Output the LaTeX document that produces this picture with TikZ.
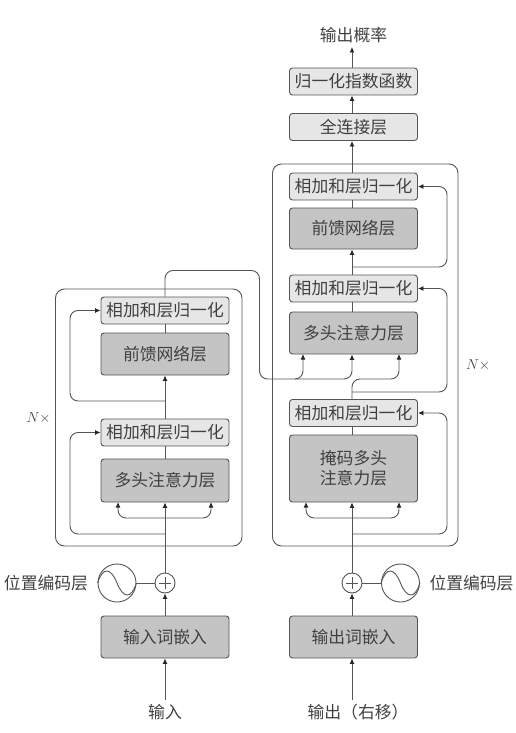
\documentclass[tikz,border=0pt]{standalone}
\usepackage{fontspec}
\setmainfont{Noto Sans CJK SC}
\usetikzlibrary{arrows.meta,calc}
\definecolor{edgeg}{HTML}{555555}
\definecolor{txt}{HTML}{404040}
\definecolor{lightf}{HTML}{E6E6E6}
\definecolor{darkf}{HTML}{C4C4C4}
\newcommand{\sinecurve}[1]{\draw[line] (#1.west) .. controls ([shift={(-14,-17)}]#1.center) and ([shift={(-6,-15)}]#1.center) .. (#1.center) .. controls ([shift={(6,15)}]#1.center) and ([shift={(14,17)}]#1.center) .. (#1.east);}
\newcommand{\plusmark}[1]{\draw[line] ([xshift=-6pt]#1.center) -- ([xshift=6pt]#1.center) ([yshift=-6pt]#1.center) -- ([yshift=6pt]#1.center);}
\tikzset{
 x=1pt,y=-1pt,
 line/.style={draw=edgeg,line width=0.9pt},
 arr/.style={line,-{Latex[length=5.5pt,width=5pt,black!85]}},
 loopline/.style={arr,rounded corners=8pt},
 lbl/.style={text=txt,font=\fontsize{16.8}{20}\selectfont,inner sep=0pt},
 blk/.style={lbl,line,rounded corners=3pt,minimum width=128pt,align=center},
 addnorm/.style={blk,fill=lightf,minimum height=27pt},
 darkblk/.style={blk,fill=darkf},
 frameb/.style={line,rounded corners=9pt,minimum width=#1},
 sinec/.style={line,circle,minimum size=38pt,inner sep=0pt,fill=white},
 plusc/.style={line,circle,minimum size=20pt,inner sep=0pt,fill=white},
 nx/.style={text=txt,inner sep=0pt,font=\fontsize{15}{17}\selectfont},
}
\begin{document}
\begin{tikzpicture}
\useasboundingbox (0,0) rectangle (515,733);
% frames
\node[frameb=186.5pt,minimum height=257pt] (fl) at (148.75,417.5) {};
\node[frameb=185.5pt,minimum height=382pt] (fr) at (365.25,355) {};
% encoder
\node[addnorm] (ln1) at (165,310.5) {相加和层归一化};
\node[darkblk,minimum height=42pt] (lff) at (165,354) {前馈网络层};
\node[addnorm] (ln2) at (165,432.5) {相加和层归一化};
\node[darkblk,minimum height=43pt] (lma) at (165,480.5) {多头注意力层};
\node[darkblk,minimum height=42pt] (lem) at (165,637) {输入词嵌入};
\node[plusc] (lp) at (165,583) {};
\node[sinec] (ls) at (117,583) {};
\node[lbl] (lpos) at (46,583) {位置编码层};
\node[lbl] (lin) at (165,712) {输入};
\node[nx] (ln) at (38.5,418) {$N\times$};
% decoder
\node[addnorm] (rn1) at (353.5,186.5) {相加和层归一化};
\node[darkblk,minimum height=41pt] (rff) at (353.5,228.5) {前馈网络层};
\node[addnorm] (rn2) at (353.5,288.5) {相加和层归一化};
\node[darkblk,minimum height=42pt] (rma) at (353.5,333) {多头注意力层};
\node[addnorm] (rn3) at (353.5,413) {相加和层归一化};
\node[darkblk,minimum height=67pt] (rmm) at (353.5,468.5) {掩码多头\\注意力层};
\node[darkblk,minimum height=42pt] (rem) at (353.5,637) {输出词嵌入};
\node[plusc] (rp) at (352,583) {};
\node[sinec] (rs) at (400.5,583) {};
\node[lbl] (rpos) at (471.5,583) {位置编码层};
\node[lbl] (rout) at (358,712) {输出（右移）};
\node[nx] (rnx) at (478,365) {$N\times$};
\node[addnorm] (fc) at (353.5,127) {全连接层};
\node[addnorm] (sm) at (353.5,81.5) {归一化指数函数};
\node[lbl] (prob) at (353.5,35) {输出概率};
% free points
\coordinate (lin0) at (165,700);
\coordinate (rin0) at (352,700);
\coordinate (p0) at (352,47);
% side marks
\sinecurve{ls}\sinecurve{rs}
\plusmark{lp}\plusmark{rp}
\draw[line] (ls) -- (lp);
\draw[line] (rs) -- (rp);
% encoder flow
\draw[arr] (lin0) -- (lem);
\draw[arr] (lem) -- (lp);
\draw[arr] (lp) -- (lma);
\draw[line] (lma) -- (ln2);
\draw[arr] (ln2) -- (lff);
\draw[line] (lff) -- (ln1);
\draw[loopline] (165,534) -- (70,534) -- (70,432.5) -- (ln2.west);
\draw[loopline] (165,401) -- (70,401) -- (70,310.5) -- (ln1.west);
\draw[loopline] (165,518) -- (118,518) -- (118,502);
\draw[loopline] (165,518) -- (211,518) -- (211,502);
% cross link
\draw[loopline] (ln1.north) -- (165,270.5) -- (259.5,270.5) -- (259.5,379) -- (303,379) -- (303,354);
\draw[loopline] (295,379) -- (352,379) -- (rp |- rma.south);
\draw[loopline] (rp |- rn3.north) -- (352,379) -- (399,379) -- (399,354);
% decoder flow
\draw[arr] (rin0) -- (rp |- rem.south);
\draw[arr] (rp |- rem.north) -- (rp);
\draw[arr] (rp) -- (rp |- rmm.south);
\draw[line] (rp |- rmm.north) -- (rp |- rn3.south);
\draw[loopline] (352,534) -- (447,534) -- (447,413) -- (rn3.east);
\draw[loopline] (352,518) -- (306,518) -- (306,502);
\draw[loopline] (352,518) -- (399,518) -- (399,502);
\draw[line] (rp |- rma.north) -- (rp |- rn2.south);
\draw[arr] (rp |- rn2.north) -- (rp |- rff.south);
\draw[loopline] (352,392) -- (447,392) -- (447,288.5) -- (rn2.east);
\draw[loopline] (352,267) -- (447,267) -- (447,186.5) -- (rn1.east);
\draw[line] (rp |- rff.north) -- (rp |- rn1.south);
\draw[arr] (rp |- rn1.north) -- (rp |- fc.south);
\draw[arr] (rp |- fc.north) -- (rp |- sm.south);
\draw[arr] (rp |- sm.north) -- (p0);
\end{tikzpicture}
\end{document}
